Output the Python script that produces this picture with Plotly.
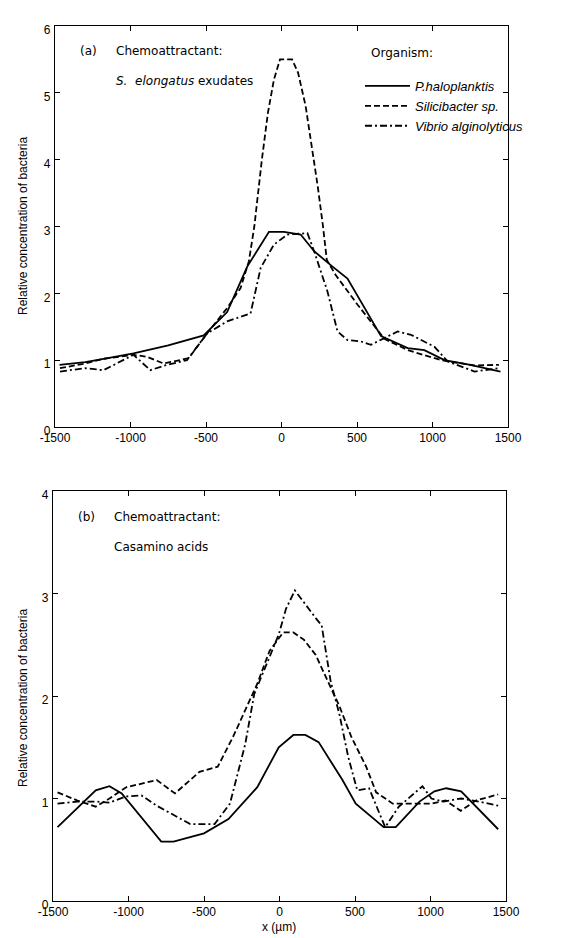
import plotly.graph_objects as go

# ---------------- data ----------------
# Panel (a): S. elongatus exudates
a_halo_x = [-1470, -1300, -1150, -980, -750, -515, -360, -227, -83, 16, 127, 216, 338, 437, 659, 836, 946, 1079, 1250, 1450]
a_halo_y = [0.93, 0.97, 1.03, 1.10, 1.22, 1.37, 1.72, 2.40, 2.92, 2.92, 2.88, 2.63, 2.40, 2.22, 1.36, 1.18, 1.15, 1.00, 0.93, 0.83]

a_sili_x = [-1467, -1300, -1179, -980, -891, -780, -614, -493, -360, -271, -216, -180, -130, -90, -50, -10, 70, 110, 160, 200, 240, 275, 300, 360, 450, 504, 681, 836, 1057, 1278, 1440]
a_sili_y = [0.88, 0.95, 1.02, 1.08, 1.05, 0.95, 1.03, 1.40, 1.78, 2.08, 2.48, 3.00, 4.00, 4.70, 5.20, 5.50, 5.50, 5.30, 4.80, 4.20, 3.60, 3.00, 2.50, 2.27, 2.00, 1.83, 1.32, 1.15, 1.00, 0.92, 0.93]

a_vibr_x = [-1467, -1300, -1179, -1050, -980, -869, -758, -626, -493, -360, -205, -138, -50, 39, 172, 216, 304, 371, 437, 526, 592, 681, 770, 858, 1013, 1101, 1278, 1440]
a_vibr_y = [0.83, 0.88, 0.85, 1.00, 1.08, 0.85, 0.93, 1.00, 1.40, 1.58, 1.70, 2.38, 2.73, 2.88, 2.90, 2.63, 2.03, 1.43, 1.30, 1.28, 1.23, 1.33, 1.43, 1.38, 1.20, 0.98, 0.83, 0.88]

# Panel (b): Casamino acids
b_halo_x = [-1470, -1217, -1126, -1045, -783, -702, -500, -338, -147, -5, 92, 171, 259, 417, 505, 690, 770, 927, 1026, 1104, 1203, 1448]
b_halo_y = [0.72, 1.08, 1.12, 1.05, 0.58, 0.58, 0.66, 0.80, 1.11, 1.50, 1.62, 1.62, 1.55, 1.18, 0.95, 0.72, 0.72, 0.97, 1.07, 1.10, 1.07, 0.70]

b_sili_x = [-1470, -1338, -1217, -1126, -1015, -813, -692, -530, -409, -308, -147, -66, 24, 92, 161, 240, 318, 397, 476, 574, 640, 750, 869, 1006, 1100, 1200, 1300, 1448]
b_sili_y = [1.06, 0.98, 0.92, 1.00, 1.11, 1.18, 1.05, 1.26, 1.31, 1.60, 2.12, 2.44, 2.62, 2.62, 2.55, 2.40, 2.15, 1.90, 1.60, 1.31, 1.06, 0.95, 0.95, 0.95, 0.98, 0.88, 0.98, 1.04]

b_vibr_x = [-1470, -1338, -1217, -1126, -1015, -914, -813, -591, -430, -328, -227, -167, -66, -5, 43, 102, 240, 279, 338, 397, 456, 515, 593, 700, 790, 947, 1006, 1085, 1203, 1321, 1448]
b_vibr_y = [0.95, 0.97, 0.97, 0.96, 1.02, 1.03, 0.93, 0.75, 0.75, 0.95, 1.53, 2.02, 2.38, 2.60, 2.85, 3.03, 2.76, 2.69, 2.15, 1.82, 1.40, 1.08, 1.10, 0.72, 0.92, 1.12, 1.00, 0.97, 1.00, 0.97, 0.93]

names = ["P.haloplanktis", "Silicibacter sp.", "Vibrio alginolyticus"]
x_ticks = [-1500, -1000, -500, 0, 500, 1000, 1500]
x_ticktext = ["-1500", "-1000", "-500", "0", "500", "1000", "1500"]
ya_ticks = [0, 1, 2, 3, 4, 5, 6]
yb_ticks = [0, 1, 2, 3, 4]

# ---------------- figure ----------------
W, H = 587, 938
dashes = ["solid", "6px,3px", "7px,3px,2px,3px"]
LW = 1.8

fig = go.Figure()
for i, (xs, ys) in enumerate([(a_halo_x, a_halo_y), (a_sili_x, a_sili_y), (a_vibr_x, a_vibr_y)]):
    fig.add_trace(go.Scatter(x=xs, y=ys, mode="lines", name=names[i],
                             line=dict(color="black", width=LW, dash=dashes[i]),
                             xaxis="x", yaxis="y", showlegend=True))
for i, (xs, ys) in enumerate([(b_halo_x, b_halo_y), (b_sili_x, b_sili_y), (b_vibr_x, b_vibr_y)]):
    fig.add_trace(go.Scatter(x=xs, y=ys, mode="lines", name=names[i],
                             line=dict(color="black", width=LW, dash=dashes[i]),
                             xaxis="x2", yaxis="y2", showlegend=False))

tickfont = dict(family="Liberation Sans, Arial, sans-serif", size=12, color="black")
axis_common = dict(showline=True, linecolor="black", linewidth=1.2, mirror="ticks",
                   ticks="inside", ticklen=5, tickcolor="black", tickwidth=1,
                   showgrid=False, zeroline=False, tickfont=tickfont, automargin=False)

fig.update_layout(
    template="none",
    width=W, height=H,
    margin=dict(l=0, r=0, t=0, b=0, pad=0),
    paper_bgcolor="white", plot_bgcolor="white",
    xaxis=dict(domain=[47 / W, 500 / W], range=[-1500, 1500], tickvals=x_ticks,
               ticktext=x_ticktext, anchor="y", ticklabelstandoff=-1, **axis_common),
    yaxis=dict(domain=[1 - 419 / H, 1 - 18 / H], range=[0, 6], tickvals=ya_ticks,
               anchor="x", ticklabelshift=4, ticklabelstandoff=1, **axis_common),
    xaxis2=dict(domain=[45 / W, 498 / W], range=[-1500, 1500], tickvals=x_ticks,
                ticktext=x_ticktext, anchor="y2", ticklabelstandoff=-1, **axis_common),
    yaxis2=dict(domain=[1 - 893 / H, 1 - 483 / H], range=[0, 4], tickvals=yb_ticks,
                anchor="x2", ticklabelshift=4, ticklabelstandoff=1, **axis_common),
    legend=dict(x=352 / W, y=1 - 63 / H, xanchor="left", yanchor="top",
                bgcolor="rgba(0,0,0,0)", borderwidth=0,
                font=dict(family="Liberation Sans, Arial, sans-serif", size=13,
                          color="black", style="italic"),
                itemwidth=45, tracegroupgap=0),
    showlegend=True,
)

ann_font = dict(family="DejaVu Sans, Verdana, sans-serif", size=12, color="black")
lab_font = dict(family="Liberation Sans, Arial, sans-serif", size=12, color="black")


def px(x, y):
    return x / W, 1 - y / H


annotations = []
for txt, (x, y) in [("(a)", (70, 43)), ("Chemoattractant:", (106, 43)),
                    ("<i>S.</i>  <i>elongatus</i> exudates", (106, 73)),
                    ("Organism:", (361, 45)),
                    ("(b)", (68, 509)), ("Chemoattractant:", (104, 509)),
                    ("Casamino acids", (104, 539))]:
    ax, ay = px(x, y)
    annotations.append(dict(text=txt, x=ax, y=ay, xref="paper", yref="paper",
                            xanchor="left", yanchor="middle", showarrow=False,
                            font=ann_font))

for yc in [218, 690]:
    ax, ay = px(15, yc)
    annotations.append(dict(text="Relative concentration of bacteria", x=ax, y=ay,
                            xref="paper", yref="paper", textangle=-90,
                            xanchor="center", yanchor="middle", showarrow=False,
                            font=lab_font))
ax, ay = px(271, 919)
annotations.append(dict(text="x (µm)", x=ax, y=ay, xref="paper", yref="paper",
                        xanchor="center", yanchor="middle", showarrow=False,
                        font=lab_font))
fig.update_layout(annotations=annotations)

fig.write_html("out.html")
